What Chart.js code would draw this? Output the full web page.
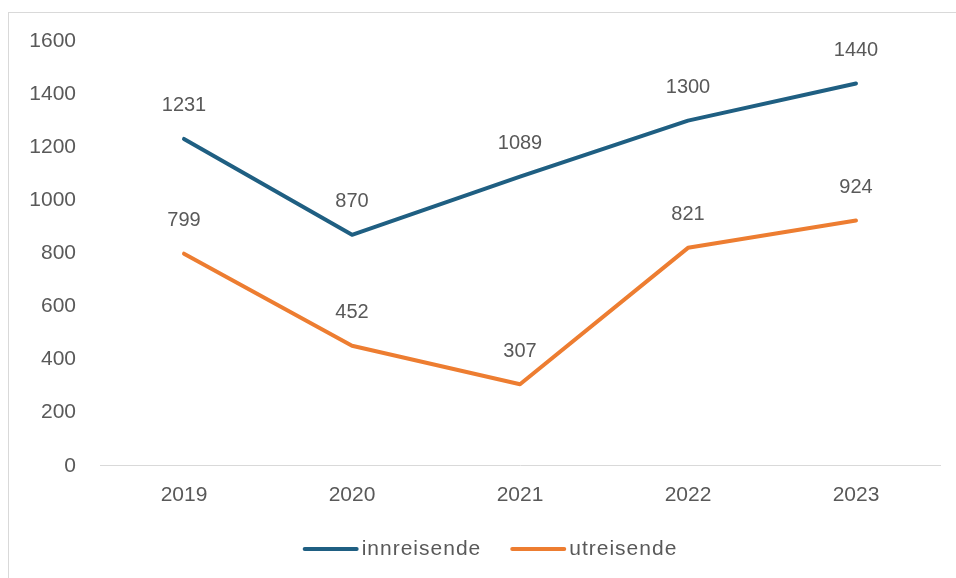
<!DOCTYPE html>
<html>
<head>
<meta charset="utf-8">
<script src="https://cdn.jsdelivr.net/npm/chart.js@4"></script>
<style>
html,body{margin:0;padding:0;background:#fff;width:956px;height:578px;overflow:hidden;}
#frame{position:absolute;left:8px;top:12px;width:970px;height:600px;border:1px solid #d9d9d9;box-sizing:border-box;}
#wrap{position:absolute;left:0;top:0;width:956px;height:578px;}
</style>
</head>
<body>
<div id="frame"></div>
<div id="wrap"><canvas id="c" width="956" height="578"></canvas></div>
<script>
const categories = ['2019','2020','2021','2022','2023'];
const innreisende = [1231, 870, 1089, 1300, 1440];
const utreisende = [799, 452, 307, 821, 924];
const yTicks = [0,200,400,600,800,1000,1200,1400,1600];
const seriesNames = ['innreisende','utreisende'];
const seriesColors = ['#1f5f82','#ed7d31'];

const FONT = '"Liberation Sans", Arial, sans-serif';
const TEXT = '#595959';

const labelPlugin = {
  id: 'valueLabels',
  afterDatasetsDraw(chart) {
    const ctx = chart.ctx;
    ctx.save();
    ctx.font = '20px ' + FONT;
    ctx.fillStyle = TEXT;
    ctx.textAlign = 'center';
    ctx.textBaseline = 'middle';
    chart.data.datasets.forEach((ds, i) => {
      const meta = chart.getDatasetMeta(i);
      meta.data.forEach((pt, j) => {
        ctx.fillText(String(ds.data[j]), pt.x, pt.y - 33);
      });
    });
    ctx.restore();
  }
};

const legendPlugin = {
  id: 'lineLegend',
  afterDraw(chart) {
    const ctx = chart.ctx;
    ctx.save();
    ctx.font = '21px ' + FONT;
    ctx.letterSpacing = '1px';
    ctx.textBaseline = 'middle';
    ctx.textAlign = 'left';
    const lineW = 56, gap = 3, itemGap = 29;
    const items = chart.data.datasets.map(ds => ({label: ds.label, color: ds.borderColor, w: lineW + gap + ctx.measureText(ds.label).width}));
    const total = items.reduce((a, it) => a + it.w, 0) + itemGap * (items.length - 1);
    let x = 490 - total / 2;
    const y = 549;
    items.forEach(it => {
      ctx.strokeStyle = it.color;
      ctx.lineWidth = 4;
      ctx.lineCap = 'round';
      ctx.beginPath();
      ctx.moveTo(x + 2, y);
      ctx.lineTo(x + lineW - 2, y);
      ctx.stroke();
      ctx.fillStyle = TEXT;
      ctx.fillText(it.label, x + lineW + gap, y);
      x += it.w + itemGap;
    });
    ctx.restore();
  }
};

new Chart(document.getElementById('c'), {
  type: 'line',
  data: {
    labels: categories,
    datasets: seriesNames.map((name, i) => ({
      label: name,
      data: i === 0 ? innreisende : utreisende,
      borderColor: seriesColors[i], backgroundColor: seriesColors[i],
      borderWidth: 4, pointRadius: 0, borderCapStyle: 'round', borderJoinStyle: 'round', tension: 0
    }))
  },
  options: {
    responsive:false,
    animation:false,
    events:[],
    layout:{padding:{left:0,right:16,top:41,bottom:53}},
    plugins:{
      tooltip:{enabled:false},
      legend:{display:false}
    },
    scales:{
      x:{
        offset:true,
        grid:{display:false, drawTicks:false},
        border:{display:true,color:'#d9d9d9',width:1},
        ticks:{color:TEXT, font:{family:FONT,size:21}, padding:17}
      },
      y:{
        min:0,max:1600,
        afterBuildTicks(s){ s.ticks = yTicks.map(v=>({value:v})); },
        afterFit(s){ s.width = 100; },
        grid:{display:false, drawTicks:false},
        border:{display:false},
        ticks:{color:TEXT, font:{family:FONT,size:21}, padding:24, callback:(v)=>String(v)}
      }
    }
  },
  plugins:[labelPlugin, legendPlugin]
});
</script>
</body>
</html>
